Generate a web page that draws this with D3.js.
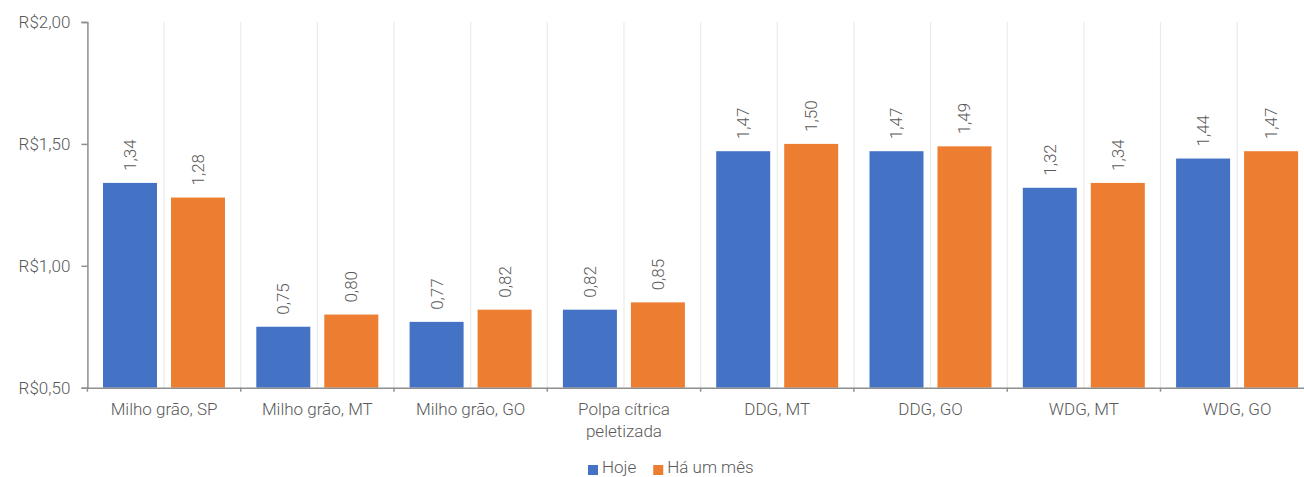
<!DOCTYPE html>
<html lang="pt">
<head>
<meta charset="UTF-8">
<title>Preços</title>
<script src="https://d3js.org/d3.v7.min.js"></script>
<style>
    body { margin: 0; background: #fff; }
    svg { display: block; font-family: Roboto, "DejaVu Sans", sans-serif; font-weight: 300; }
</style>
</head>
<body>
<svg width="1304" height="477"></svg>
<script>
    const categories = ["Milho grão, SP", "Milho grão, MT", "Milho grão, GO", "Polpa cítrica\npeletizada",
        "DDG, MT", "DDG, GO", "WDG, MT", "WDG, GO"];
    const series = ["Hoje", "Há um mês"];
    const hoje = [1.34, 0.75, 0.77, 0.82, 1.47, 1.47, 1.32, 1.44];
    const haUmMes = [1.28, 0.80, 0.82, 0.85, 1.50, 1.49, 1.34, 1.47];
    const yTicks = [0.5, 1.0, 1.5, 2.0];
    const colors = ["#4472c4", "#ed7d31"];

    const svg = d3.select("svg");
    const plotLeft = 87.4, plotTop = 22, plotBottom = 387.7;
    const step = 153.3;
    const plotRight = plotLeft + step * categories.length;   // runs past the picture edge
    const textColor = "#595959";

    const x0 = d3.scaleBand().domain(categories).range([plotLeft, plotRight]).padding(0);
    const x1 = d3.scaleBand().domain(series).range([15.6, 137.6]).paddingInner(14 / 68);
    const y = d3.scaleLinear().domain([0.5, 2.0]).range([plotBottom, plotTop]);

    // vertical gridlines every half category
    const grid = d3.range(1, categories.length * 2 + 1).map(i => plotLeft + i * step / 2);
    svg.append("g").selectAll("line").data(grid).join("line")
        .attr("x1", d => d).attr("x2", d => d)
        .attr("y1", plotTop).attr("y2", plotBottom)
        .attr("stroke", "#ebebeb").attr("stroke-width", 1.2);

    const rows = categories.map((c, i) => ({ cat: c, vals: [hoje[i], haUmMes[i]] }));

    const groups = svg.append("g").selectAll("g").data(rows).join("g")
        .attr("transform", d => `translate(${x0(d.cat)},0)`);

    groups.selectAll("rect").data(d => d.vals.map((v, j) => ({ s: series[j], v, j }))).join("rect")
        .attr("x", d => x1(d.s))
        .attr("width", x1.bandwidth())
        .attr("y", d => y(d.v))
        .attr("height", d => plotBottom - y(d.v))
        .attr("fill", d => colors[d.j]);

    groups.selectAll("text").data(d => d.vals.map((v, j) => ({ s: series[j], v, j }))).join("text")
        .attr("transform", d => `translate(${x1(d.s) + x1.bandwidth() / 2},${y(d.v) - 12}) rotate(-90)`)
        .attr("dy", "0.35em")
        .attr("font-size", 17)
        .attr("fill", textColor)
        .text(d => d3.format(".2f")(d.v).replace(".", ","));

    // y axis
    const yAxis = svg.append("g")
        .attr("transform", `translate(${plotLeft},0)`)
        .call(d3.axisLeft(y).tickValues(yTicks).tickSize(6).tickPadding(11)
            .tickFormat(d => "R$" + d3.format(".2f")(d).replace(".", ",")));
    yAxis.select(".domain").attr("stroke", "#8f8f8f").attr("stroke-width", 1.5);
    yAxis.selectAll(".tick line").attr("stroke", "#8f8f8f").attr("stroke-width", 1.5);
    yAxis.selectAll(".tick text").attr("font-size", 17).attr("fill", textColor)
        .attr("font-family", "Roboto, sans-serif").attr("font-weight", 300);

    // x axis
    const xAxis = svg.append("g")
        .attr("transform", `translate(0,${plotBottom})`)
        .call(d3.axisBottom(x0).tickSize(0).tickFormat(""));
    xAxis.select(".domain").attr("stroke", "#8f8f8f").attr("stroke-width", 1.5);
    svg.append("g").selectAll("line").data(d3.range(0, categories.length + 1).map(i => plotLeft + i * step)).join("line")
        .attr("x1", d => d).attr("x2", d => d)
        .attr("y1", plotBottom).attr("y2", plotBottom + 4)
        .attr("stroke", "#8f8f8f").attr("stroke-width", 1.5);

    const xl = svg.append("g").selectAll("text").data(categories).join("text")
        .attr("x", d => x0(d) + step / 2)
        .attr("y", 415)
        .attr("text-anchor", "middle")
        .attr("font-size", 17)
        .attr("fill", textColor);
    xl.selectAll("tspan").data(d => d.split("\n")).join("tspan")
        .attr("x", function () { return d3.select(this.parentNode).attr("x"); })
        .attr("dy", (d, i) => i === 0 ? 0 : 21.5)
        .text(d => d);

    // legend (sits at the bottom edge, as in the original)
    let lx = 588;
    series.forEach((s, i) => {
        svg.append("rect").attr("x", lx).attr("y", 465).attr("width", 10).attr("height", 10)
            .attr("fill", colors[i]);
        const t = svg.append("text").attr("x", lx + 14).attr("y", 473)
            .attr("font-size", 17).attr("fill", textColor).text(s);
        lx += 14 + t.node().getComputedTextLength() + 17;
    });
</script>
</body>
</html>
